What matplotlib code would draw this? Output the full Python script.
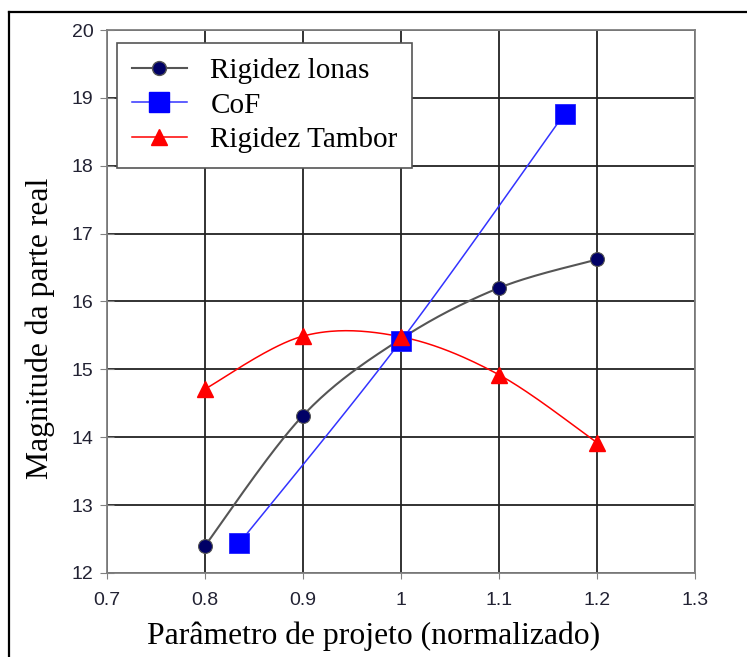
import numpy as np
import matplotlib
matplotlib.use("Agg")
import matplotlib.pyplot as plt
from matplotlib.lines import Line2D

# dados
x_lonas = [0.8, 0.9, 1.0, 1.1, 1.2]
y_lonas = [12.40, 14.32, 15.45, 16.20, 16.62]

x_cof = [0.835, 1.0, 1.167]
y_cof = [12.44, 15.42, 18.77]

x_tambor = [0.8, 0.9, 1.0, 1.1, 1.2]
y_tambor = [14.71, 15.49, 15.48, 14.92, 13.92]

xticks = [0.7, 0.8, 0.9, 1.0, 1.1, 1.2, 1.3]
xtick_labels = ["0.7", "0.8", "0.9", "1", "1.1", "1.2", "1.3"]
yticks = list(range(12, 21))
ytick_labels = [str(v) for v in yticks]


def suavizar(xs, ys, n=40):
    """Curva suave tipo Excel (Catmull-Rom em Bezier)"""
    p = np.column_stack([xs, ys]).astype(float)
    p = np.vstack([p[0], p, p[-1]])
    out = []
    for i in range(1, len(p) - 2):
        p0, p1, p2, p3 = p[i - 1], p[i], p[i + 1], p[i + 2]
        c1 = p1 + (p2 - p0) / 6
        c2 = p2 - (p3 - p1) / 6
        t = np.linspace(0, 1, n)[:, None]
        seg = ((1 - t) ** 3) * p1 + 3 * ((1 - t) ** 2) * t * c1 \
            + 3 * (1 - t) * t ** 2 * c2 + t ** 3 * p2
        out.append(seg if i == 1 else seg[1:])
    s = np.vstack(out)
    return s[:, 0], s[:, 1]


fig = plt.figure(figsize=(7.47, 6.57), dpi=100)
ax = fig.add_axes([0.1432, 0.1279, 0.7872, 0.8264])

# moldura da figura (so esquerda e topo visiveis)
fig.add_artist(Line2D([9 / 747, 9 / 747], [0, 1 - 12 / 657], color="black", lw=1.6))
fig.add_artist(Line2D([9 / 747, 1], [1 - 12 / 657, 1 - 12 / 657], color="black", lw=1.6))

sx, sy = suavizar(x_lonas, y_lonas)
ax.plot(sx, sy, color="#555555", lw=1.5, zorder=3)
ax.plot(x_lonas, y_lonas, ls="none", marker="o", ms=10, mfc="#000066",
        mec="#555555", mew=0.8, zorder=4)

sx, sy = suavizar(x_cof, y_cof)
ax.plot(sx, sy, color="#3333ff", lw=1.1, zorder=3)
ax.plot(x_cof, y_cof, ls="none", marker="s", ms=14.5, mfc="#0000ff",
        mec="#2222ff", mew=0.6, zorder=5)

sx, sy = suavizar(x_tambor, y_tambor)
ax.plot(sx, sy, color="#ff0000", lw=1.1, zorder=3)
ax.plot(x_tambor, y_tambor, ls="none", marker="^", ms=11, mfc="#ff0000",
        mec="#ff0000", zorder=6)

ax.set_xlim(0.7, 1.3)
ax.set_ylim(12, 20)
ax.grid(True, color="#222222", lw=1.3)
ax.set_axisbelow(True)
for s in ax.spines.values():
    s.set_color("#808080")
    s.set_linewidth(1.3)
ax.tick_params(axis="y", direction="inout", length=9.5, color="#808080",
               labelcolor="#222233", pad=5)
ax.tick_params(axis="x", direction="out", length=4, color="#808080",
               labelcolor="#222233", pad=10)
fonte_ticks = {"family": "Liberation Sans", "size": 14}
ax.set_xticks(xticks, xtick_labels, fontdict=fonte_ticks)
ax.set_yticks(yticks, ytick_labels, fontdict=fonte_ticks)

ax.set_xlabel("Parâmetro de projeto (normalizado)", family="Liberation Serif",
              fontsize=22.8)
ax.set_ylabel("Magnitude da parte real", family="Liberation Serif",
              fontsize=22.8)
# posicao dos rotulos (em fracao dos eixos)
ax.xaxis.set_label_coords((374 - 107) / 588, (573 - 636) / 543)
ax.xaxis.label.set_va("center")
ax.yaxis.set_label_coords((40 - 107) / 588, (573 - 328) / 543)
ax.yaxis.label.set_va("center")

handles = [
    Line2D([], [], color="#555555", lw=1.5, marker="o", ms=10,
           mfc="#000066", mec="#555555"),
    Line2D([], [], color="#3333ff", lw=1.1, marker="s", ms=14.5,
           mfc="#0000ff", mec="#0000ff"),
    Line2D([], [], color="#ff0000", lw=1.1, marker="^", ms=11,
           mfc="#ff0000", mec="#ff0000"),
]
leg = ax.legend(handles, ["Rigidez lonas", "CoF", "Rigidez Tambor"],
                loc="upper left", bbox_to_anchor=(0.017, 0.976),
                borderaxespad=0,
                prop={"family": "Liberation Serif", "size": 21},
                fancybox=False, framealpha=1, edgecolor="#555555",
                handlelength=1.9, handletextpad=0.8, borderpad=0.5,
                labelspacing=0.28)
leg.get_frame().set_linewidth(1.2)
leg.set_zorder(10)

fig.savefig("out.png", dpi=100)
